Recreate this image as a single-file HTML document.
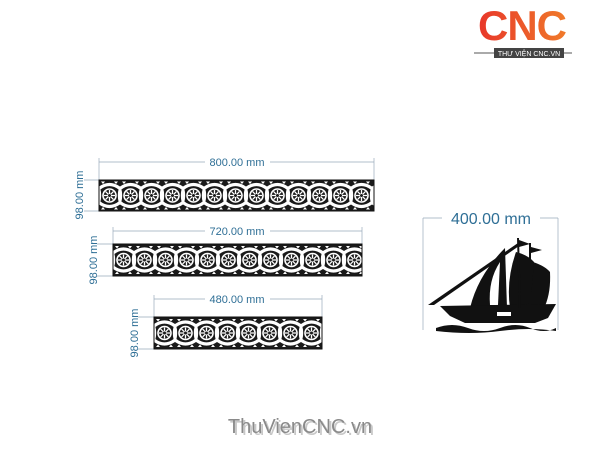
<!DOCTYPE html>
<html><head><meta charset="utf-8"><style>
body{margin:0;background:#fff;width:600px;height:450px;overflow:hidden}
svg{display:block}
</style></head><body>
<svg width="600" height="450" viewBox="0 0 600 450" xmlns="http://www.w3.org/2000/svg" font-family="Liberation Sans, sans-serif">
<defs>
<linearGradient id="lg" x1="0" x2="1"><stop offset="0" stop-color="#e8372a"/><stop offset="1" stop-color="#f07a2a"/></linearGradient>
<g id="tile">
<rect width="21" height="32" fill="#1a1a1a"/>
<path d="M0 9 Q10.5 1 21 9 M0 23 Q10.5 31 21 23" stroke="#fff" stroke-width="3.2" fill="none"/>
<path d="M0 23 Q2 16 0 9 M21 23 Q19 16 21 9" stroke="#fff" stroke-width="2.4" fill="none"/>
<circle cx="10.5" cy="16" r="7.3" fill="#fff"/>
<circle cx="10.5" cy="16" r="5.7" fill="#1a1a1a"/>
<path d="M10.5 10.5V21.5M5 16H16M6.6 12.1L14.4 19.9M14.4 12.1L6.6 19.9" stroke="#fff" stroke-width="1.3"/>
<circle cx="10.5" cy="16" r="1.5" fill="#1a1a1a"/>
<path d="M2 2L4 4.5L6 2ZM15 2L17 4.5L19 2ZM2 30L4 27.5L6 30ZM15 30L17 27.5L19 30Z" fill="#fff"/>
</g>
<pattern id="p1" x="99" y="179.5" width="21" height="32" patternUnits="userSpaceOnUse"><use href="#tile"/></pattern>
<pattern id="p2" x="113" y="244" width="21" height="32" patternUnits="userSpaceOnUse"><use href="#tile"/></pattern>
<pattern id="p3" x="154" y="317" width="21" height="32" patternUnits="userSpaceOnUse"><use href="#tile"/></pattern>
</defs>
<g stroke="#9ab" stroke-width="0.7" fill="none">
<path d="M99 162H374M99 158V180M374 158V180"/>
<path d="M113 231H362M113 227V244M362 227V244"/>
<path d="M154 299H322M154 295V317M322 295V317"/>
<path d="M84 180H99M84 211H99M97 244H113M97 276H113M138 317H154M138 349H154"/>
<path d="M423 218H558M423 218V330M558 218V330"/>
</g>
<g fill="#2f6f96" font-size="11" text-anchor="middle">
<rect x="205" y="155" width="65" height="12" fill="#fff"/>
<text x="237" y="166">800.00 mm</text>
<rect x="205" y="225" width="65" height="12" fill="#fff"/>
<text x="237" y="235">720.00 mm</text>
<rect x="205" y="293" width="65" height="12" fill="#fff"/>
<text x="237" y="303">480.00 mm</text>
<text transform="translate(83 195) rotate(-90)">98.00 mm</text>
<text transform="translate(97 260) rotate(-90)">98.00 mm</text>
<text transform="translate(138 333) rotate(-90)">98.00 mm</text>
<rect x="442" y="208" width="98" height="20" fill="#fff"/>
<text x="491" y="224" font-size="16">400.00 mm</text>
</g>
<rect x="99" y="180" width="275" height="31" fill="url(#p1)" stroke="#111"/>
<rect x="113" y="244" width="249" height="32" fill="url(#p2)" stroke="#111"/>
<rect x="154" y="317" width="168" height="32" fill="url(#p3)" stroke="#111"/>
<g fill="#111">
<path d="M428 305L518 243L519 246L434 305Z"/>
<path d="M470 308Q478 275 505 248L507 308Z"/>
<path d="M490 305Q488 280 500 262L498 305Z" fill="#fff"/>
<path d="M510 308Q506 280 516 252Q528 255 534 262Q538 285 530 308Z"/>
<path d="M528 306Q534 285 533 262Q545 266 550 272Q551 292 545 306Z"/>
<path d="M440 306L556 304L548 318L535 323L465 323L450 316Z"/>
<path d="M517 238L519 238L521 308L519 308ZM529 243L531 243L531 308L529 308Z"/>
<path d="M519 240L530 244L519 247ZM531 247L542 250L531 253Z"/>
<path d="M436 328Q452 322 468 328T500 328T530 328T556 328L556 331Q530 327 500 331T436 331Z"/>
</g>
<rect x="497" y="312" width="14" height="4" fill="#fff"/>
<text x="522" y="40" font-size="42" font-weight="bold" fill="url(#lg)" text-anchor="middle" letter-spacing="-1">CNC</text>
<path d="M474 53H572" stroke="#555" stroke-width="1"/>
<rect x="494" y="48" width="70" height="10" fill="#444"/>
<text x="529" y="56" font-size="7" fill="#fff" text-anchor="middle">THƯ VIỆN CNC.VN</text>
<text x="302" y="435" font-size="20" fill="#c8c8c8" text-anchor="middle">ThuVienCNC.vn</text>
<text x="300" y="433" font-size="20" fill="#8a8a8a" text-anchor="middle">ThuVienCNC.vn</text>
</svg>
</body></html>
